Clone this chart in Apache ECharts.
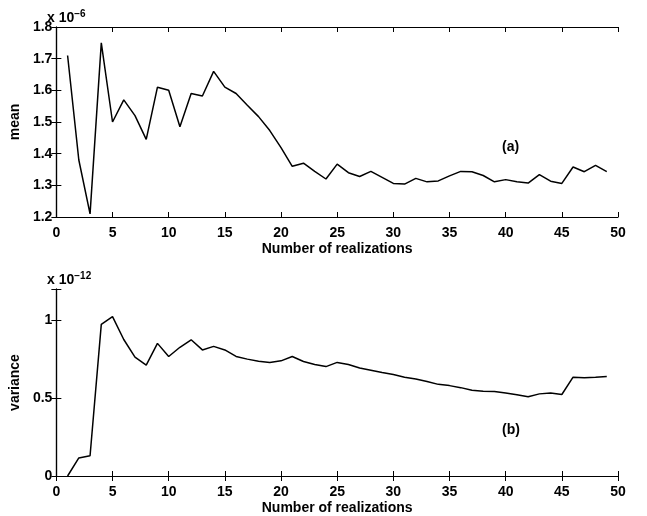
<!DOCTYPE html>
<html>
<head>
<meta charset="utf-8">
<script src="https://cdn.jsdelivr.net/npm/echarts@6/dist/echarts.min.js"></script>
</head>
<body style="margin:0;background:#fff">
<div id="main" style="width:647px;height:516px;"></div>
<script>
// realization index 1..49
var realizations = [1,2,3,4,5,6,7,8,9,10,11,12,13,14,15,16,17,18,19,20,21,22,23,24,25,
  26,27,28,29,30,31,32,33,34,35,36,37,38,39,40,41,42,43,44,45,46,47,48,49];
// mean (x 1e-6)
var meanValues = [1.71,1.38,1.21,1.75,1.50,1.57,1.52,1.445,1.61,1.60,1.485,1.59,1.582,1.66,1.61,
  1.59,1.553,1.517,1.473,1.419,1.36,1.37,1.344,1.32,1.367,1.34,1.328,1.344,1.325,1.306,
  1.304,1.322,1.311,1.314,1.33,1.344,1.343,1.331,1.311,1.318,1.311,1.307,1.334,1.313,1.306,
  1.358,1.343,1.363,1.343];
// variance (x 1e-12)
var varValues = [0,0.116,0.13,0.973,1.023,0.876,0.763,0.712,0.851,0.767,0.826,0.874,0.809,0.832,0.809,
  0.767,0.75,0.737,0.729,0.739,0.767,0.735,0.716,0.702,0.729,0.716,0.693,0.679,0.664,0.651,
  0.634,0.622,0.607,0.588,0.58,0.567,0.55,0.544,0.542,0.532,0.521,0.508,0.527,0.532,0.523,
  0.634,0.63,0.634,0.639];
var xTicks = [0,5,10,15,20,25,30,35,40,45,50];
var meanTicks = [1.2,1.3,1.4,1.5,1.6,1.7,1.8];
var varTicks = [0,0.5,1];

function pairs(xs, ys) {
  var out = [];
  for (var i = 0; i < xs.length; i++) out.push([xs[i], ys[i]]);
  return out;
}

var font = 'Arial, "Liberation Sans", Helvetica, sans-serif';
var lbl = {color:'#000', fontSize:14, fontFamily:font, fontWeight:'bold'};
var line = {show:true, lineStyle:{color:'#000', width:1.2}};

function xAx(grid, pos, labels) {
  return {
    type:'value', gridIndex:grid, position:pos, min:0, max:50, interval:5,
    axisLine:line, splitLine:{show:false},
    axisTick:{show:true, inside:true, length:5, lineStyle:{color:'#000'}},
    axisLabel: labels ? Object.assign({show:true, margin:9}, lbl) : {show:false},
    name: labels ? 'Number of realizations' : '',
    nameLocation:'middle', nameGap:25, nameTextStyle: lbl
  };
}
function yAx(grid, pos, labels, min, max, interval, fmt, name) {
  return {
    type:'value', gridIndex:grid, position:pos, min:min, max:max, interval:interval,
    axisLine:line, splitLine:{show:false},
    axisTick:{show:true, inside:true, length:5, lineStyle:{color:'#000'}},
    axisLabel: labels ? Object.assign({show:true, margin:4, formatter:fmt}, lbl) : {show:false},
    name: labels ? name : '', nameLocation:'middle', nameGap:32, nameTextStyle: lbl
  };
}

var myChart = echarts.init(document.getElementById('main'));
var option = {
  animation:false,
  grid:[
    {left:46, right:29, top:27, height:190},
    {left:46, right:29, top:289, height:189}
  ],
  xAxis:[xAx(0,'bottom',true), xAx(0,'top',false), xAx(1,'bottom',true), xAx(1,'top',false)],
  yAxis:[
    yAx(0,'left',true,1.2,1.8,0.1,function(v){
      var t = meanTicks.filter(function(k){return Math.abs(k-v)<1e-6;});
      return t.length ? t[0].toFixed(1) : '';
    },'mean'),
    yAx(0,'right',false,1.2,1.8,0.1),
    yAx(1,'left',true,0,1.2,0.5,function(v){
      var t = varTicks.filter(function(k){return Math.abs(k-v)<1e-6;});
      return t.length ? String(t[0]) : '';
    },'variance'),
    yAx(1,'right',false,0,1.2,0.5)
  ],
  graphic:[
    {type:'text', left:47, top:9, style:{rich:{a:{fontSize:14,fontFamily:font,fontWeight:'bold',fill:'#000'},
      s:{fontSize:10,fontFamily:font,fontWeight:'bold',fill:'#000',verticalAlign:'top',padding:[0,0,8,0]}},
      text:'{a|x 10}{s|−6}'}},
    {type:'text', left:47, top:271, style:{rich:{a:{fontSize:14,fontFamily:font,fontWeight:'bold',fill:'#000'},
      s:{fontSize:10,fontFamily:font,fontWeight:'bold',fill:'#000',verticalAlign:'top',padding:[0,0,8,0]}},
      text:'{a|x 10}{s|−12}'}},
    {type:'text', left:502, top:140, style:{text:'(a)', font:'bold 14px ' + font, fill:'#000'}},
    {type:'text', left:502, top:423, style:{text:'(b)', font:'bold 14px ' + font, fill:'#000'}}
  ],
  series:[
    {type:'line', xAxisIndex:0, yAxisIndex:0, data:pairs(realizations, meanValues),
      symbol:'none', lineStyle:{color:'#000', width:1.5}},
    {type:'line', xAxisIndex:2, yAxisIndex:2, data:pairs(realizations, varValues),
      symbol:'none', lineStyle:{color:'#000', width:1.5}}
  ]
};
myChart.setOption(option);
</script>
</body>
</html>
